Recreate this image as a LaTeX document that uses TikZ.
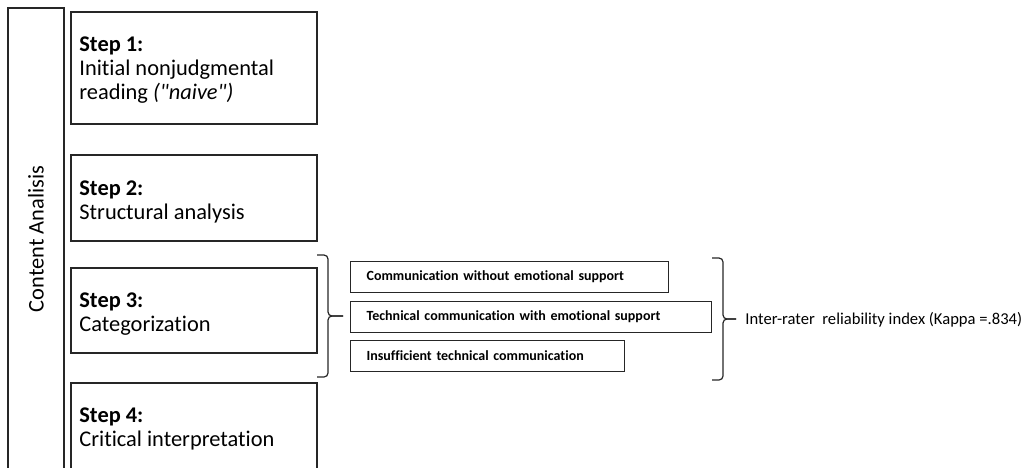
\documentclass[tikz,border=0pt]{standalone}
\usepackage{fontspec}
\setmainfont{Carlito}[Ligatures={TeX,NoCommon}]

\begin{document}
\begin{tikzpicture}[x=0.5pt,y=-0.5pt,
	boxline/.style={draw=black!85,line width=0.75pt},
	steptext/.style={anchor=north west,inner sep=0pt,align=left,font=\fontsize{11.2}{12}\selectfont},
	catbox/.style={boxline,line width=0.6pt,anchor=north west,inner xsep=8pt,inner ysep=0pt,minimum height=15.5pt,align=left,font=\fontsize{7}{8}\selectfont\bfseries},
	bracket/.style={draw=black!85,line width=0.6pt,rounded corners=2pt}]

\useasboundingbox (0,0) rectangle (1031,467);

% outer frame and the four steps
\draw[boxline] (8,480) -- (8,8) -- (64,8) -- (64,480);
\node[rotate=90,font=\fontsize{11.2}{12}\selectfont] (ca) at (36,239) {Content Analisis};

\draw[boxline] (71,12) rectangle (317,124);
\draw[boxline] (71,155) rectangle (317,241);
\draw[boxline] (71,268) rectangle (317,353);
\draw[boxline] (71,480) -- (71,383) -- (317,383) -- (317,480);

\node[steptext] (s1) at (79,36) {\textbf{Step 1:}\\Initial nonjudgmental\\reading \textit{(\textquotedbl naive\textquotedbl)}};
\node[steptext] (s2) at (79,180) {\textbf{Step 2:}\\Structural analysis};
\node[steptext] (s3) at (79,292) {\textbf{Step 3:}\\Categorization};
\node[steptext] (s4) at (79,407) {\textbf{Step 4:}\\Critical interpretation};

% categories
\node[catbox,text width=143pt] (c1) at (350,261) {Communication without emotional support};
\node[catbox,text width=164.5pt] (c2) at (350,301) {Technical communication with emotional support};
\node[catbox,text width=121pt] (c3) at (350,340) {Insufficient technical communication};

\coordinate (b1top) at (317,255);
\coordinate (b1bot) at (317,377);
\coordinate (b2top) at (712,258);
\coordinate (b2bot) at (712,380);
\draw[bracket] (b1top) -| ++(11,61) -- ++(15,0);
\draw[bracket] (b1bot) -| ++(11,-61) -- ++(15,0);
\draw[bracket] (b2top) -| ++(11,61) -- ++(13,0);
\draw[bracket] (b2bot) -| ++(11,-61) -- ++(13,0);

\node[anchor=west,inner sep=0pt,font=\fontsize{8.3}{10}\selectfont] (kappa) at (745,320) {Inter-rater\ \ reliability index (Kappa =.834)};

\end{tikzpicture}
\end{document}
